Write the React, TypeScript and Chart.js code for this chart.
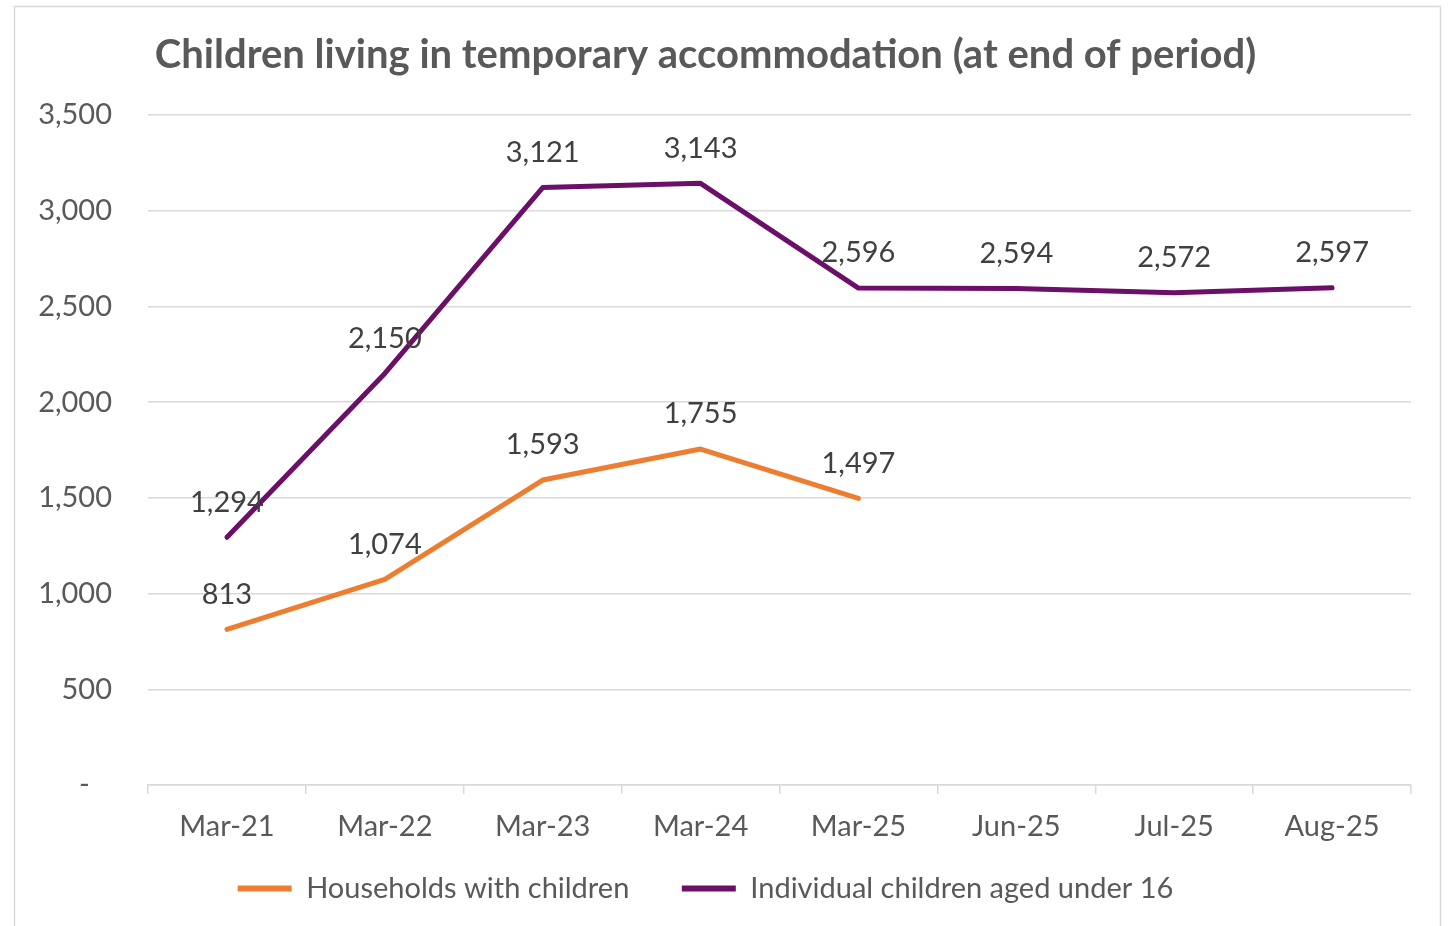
import React, { useEffect, useRef } from "react";
import { Chart, registerables } from "chart.js";

Chart.register(...registerables);

const categories = ["Mar-21", "Mar-22", "Mar-23", "Mar-24", "Mar-25", "Jun-25", "Jul-25", "Aug-25"];
const households = [813, 1074, 1593, 1755, 1497, null, null, null];
const individuals = [1294, 2150, 3121, 3143, 2596, 2594, 2572, 2597];
const seriesNames = ["Households with children", "Individual children aged under 16"];
const titleText = "Children living in temporary accommodation (at end of period)";

const FONT = "Lato, 'Open Sans', sans-serif";
const ORANGE = "#ED7D31";
const PURPLE = "#6C0F68";

const fmt = (v: number) => v.toLocaleString("en-US");

const framePlugin = {
  id: "frame",
  beforeDraw(chart: any) {
    const ctx = chart.ctx;
    ctx.save();
    ctx.fillStyle = "#ffffff";
    ctx.fillRect(0, 0, chart.width, chart.height);
    ctx.strokeStyle = "#d9d9d9";
    ctx.lineWidth = 1.5;
    ctx.strokeRect(14.5, 6.5, 1426, 1000);
    ctx.restore();
  },
};

const labelPlugin = {
  id: "pointLabels",
  afterDatasetsDraw(chart: any) {
    const ctx = chart.ctx;
    ctx.save();
    ctx.font = `29px ${FONT}`;
    ctx.fillStyle = "#404040";
    ctx.textAlign = "center";
    ctx.textBaseline = "middle";
    chart.data.datasets.forEach((ds: any, i: number) => {
      const meta = chart.getDatasetMeta(i);
      meta.data.forEach((pt: any, j: number) => {
        const v = ds.data[j];
        if (v === null || v === undefined) return;
        ctx.fillText(fmt(v), pt.x, pt.y - 35);
      });
    });
    ctx.restore();
  },
};

export default function App() {
  const ref = useRef<HTMLCanvasElement>(null);
  useEffect(() => {
    document.body.style.margin = "0";
    const chart = new Chart(ref.current!, {
      type: "line",
      data: {
        labels: categories,
        datasets: [
          {
            label: seriesNames[0],
            data: households,
            borderColor: ORANGE,
            backgroundColor: ORANGE,
            borderWidth: 5,
            pointRadius: 0,
            tension: 0,
            borderCapStyle: "round",
            borderJoinStyle: "round",
          },
          {
            label: seriesNames[1],
            data: individuals,
            borderColor: PURPLE,
            backgroundColor: PURPLE,
            borderWidth: 5,
            pointRadius: 0,
            tension: 0,
            borderCapStyle: "round",
            borderJoinStyle: "round",
          },
        ],
      },
      options: {
        responsive: false,
        animation: false,
        layout: { padding: { left: 0, right: 37, top: 0, bottom: 13 } },
        plugins: {
          title: {
            display: true,
            text: titleText,
            color: "#595959",
            font: { family: FONT, size: 40, weight: "bold" },
            padding: { top: 31, bottom: 36 },
          },
          legend: {
            position: "bottom",
            labels: {
              color: "#595959",
              font: { family: FONT, size: 29 },
              boxWidth: 54,
              boxHeight: 6,
              padding: 9,
              generateLabels(chart: any) {
                const items = Chart.defaults.plugins.legend.labels.generateLabels(chart);
                return items.map((it: any, i: number) => ({
                  ...it,
                  text: i === 0 ? it.text + "\u2003\u2003" : it.text,
                  lineWidth: 0,
                  fillStyle: it.strokeStyle,
                }));
              },
            },
          },
          tooltip: { enabled: false },
        },
        scales: {
          x: {
            offset: true,
            grid: {
              offset: true,
              drawOnChartArea: false,
              drawTicks: true,
              tickLength: 9,
              color: "#d9d9d9",
              lineWidth: 1.5,
            },
            border: { display: true, color: "#d9d9d9", width: 1.5 },
            ticks: {
              color: "#595959",
              font: { family: FONT, size: 29 },
              padding: 15,
              maxRotation: 0,
            },
            afterFit(scale: any) {
              scale.height = 80;
            },
          },
          y: {
            min: 0,
            max: 3500,
            ticks: {
              stepSize: 500,
              color: "#595959",
              font: { family: FONT, size: 29 },
              padding: 36,
              callback: (v: any) => (Number(v) === 0 ? "-   " : fmt(Number(v))),
            },
            grid: { color: "#d9d9d9", lineWidth: 1.5, drawTicks: false },
            border: { display: false },
            afterFit(scale: any) {
              scale.width = 148;
            },
          },
        },
      },
      plugins: [framePlugin, labelPlugin],
    });
    return () => chart.destroy();
  }, []);
  return (
    <div style={{ width: 1448, height: 926 }}>
      <canvas ref={ref} width={1448} height={926} />
    </div>
  );
}
